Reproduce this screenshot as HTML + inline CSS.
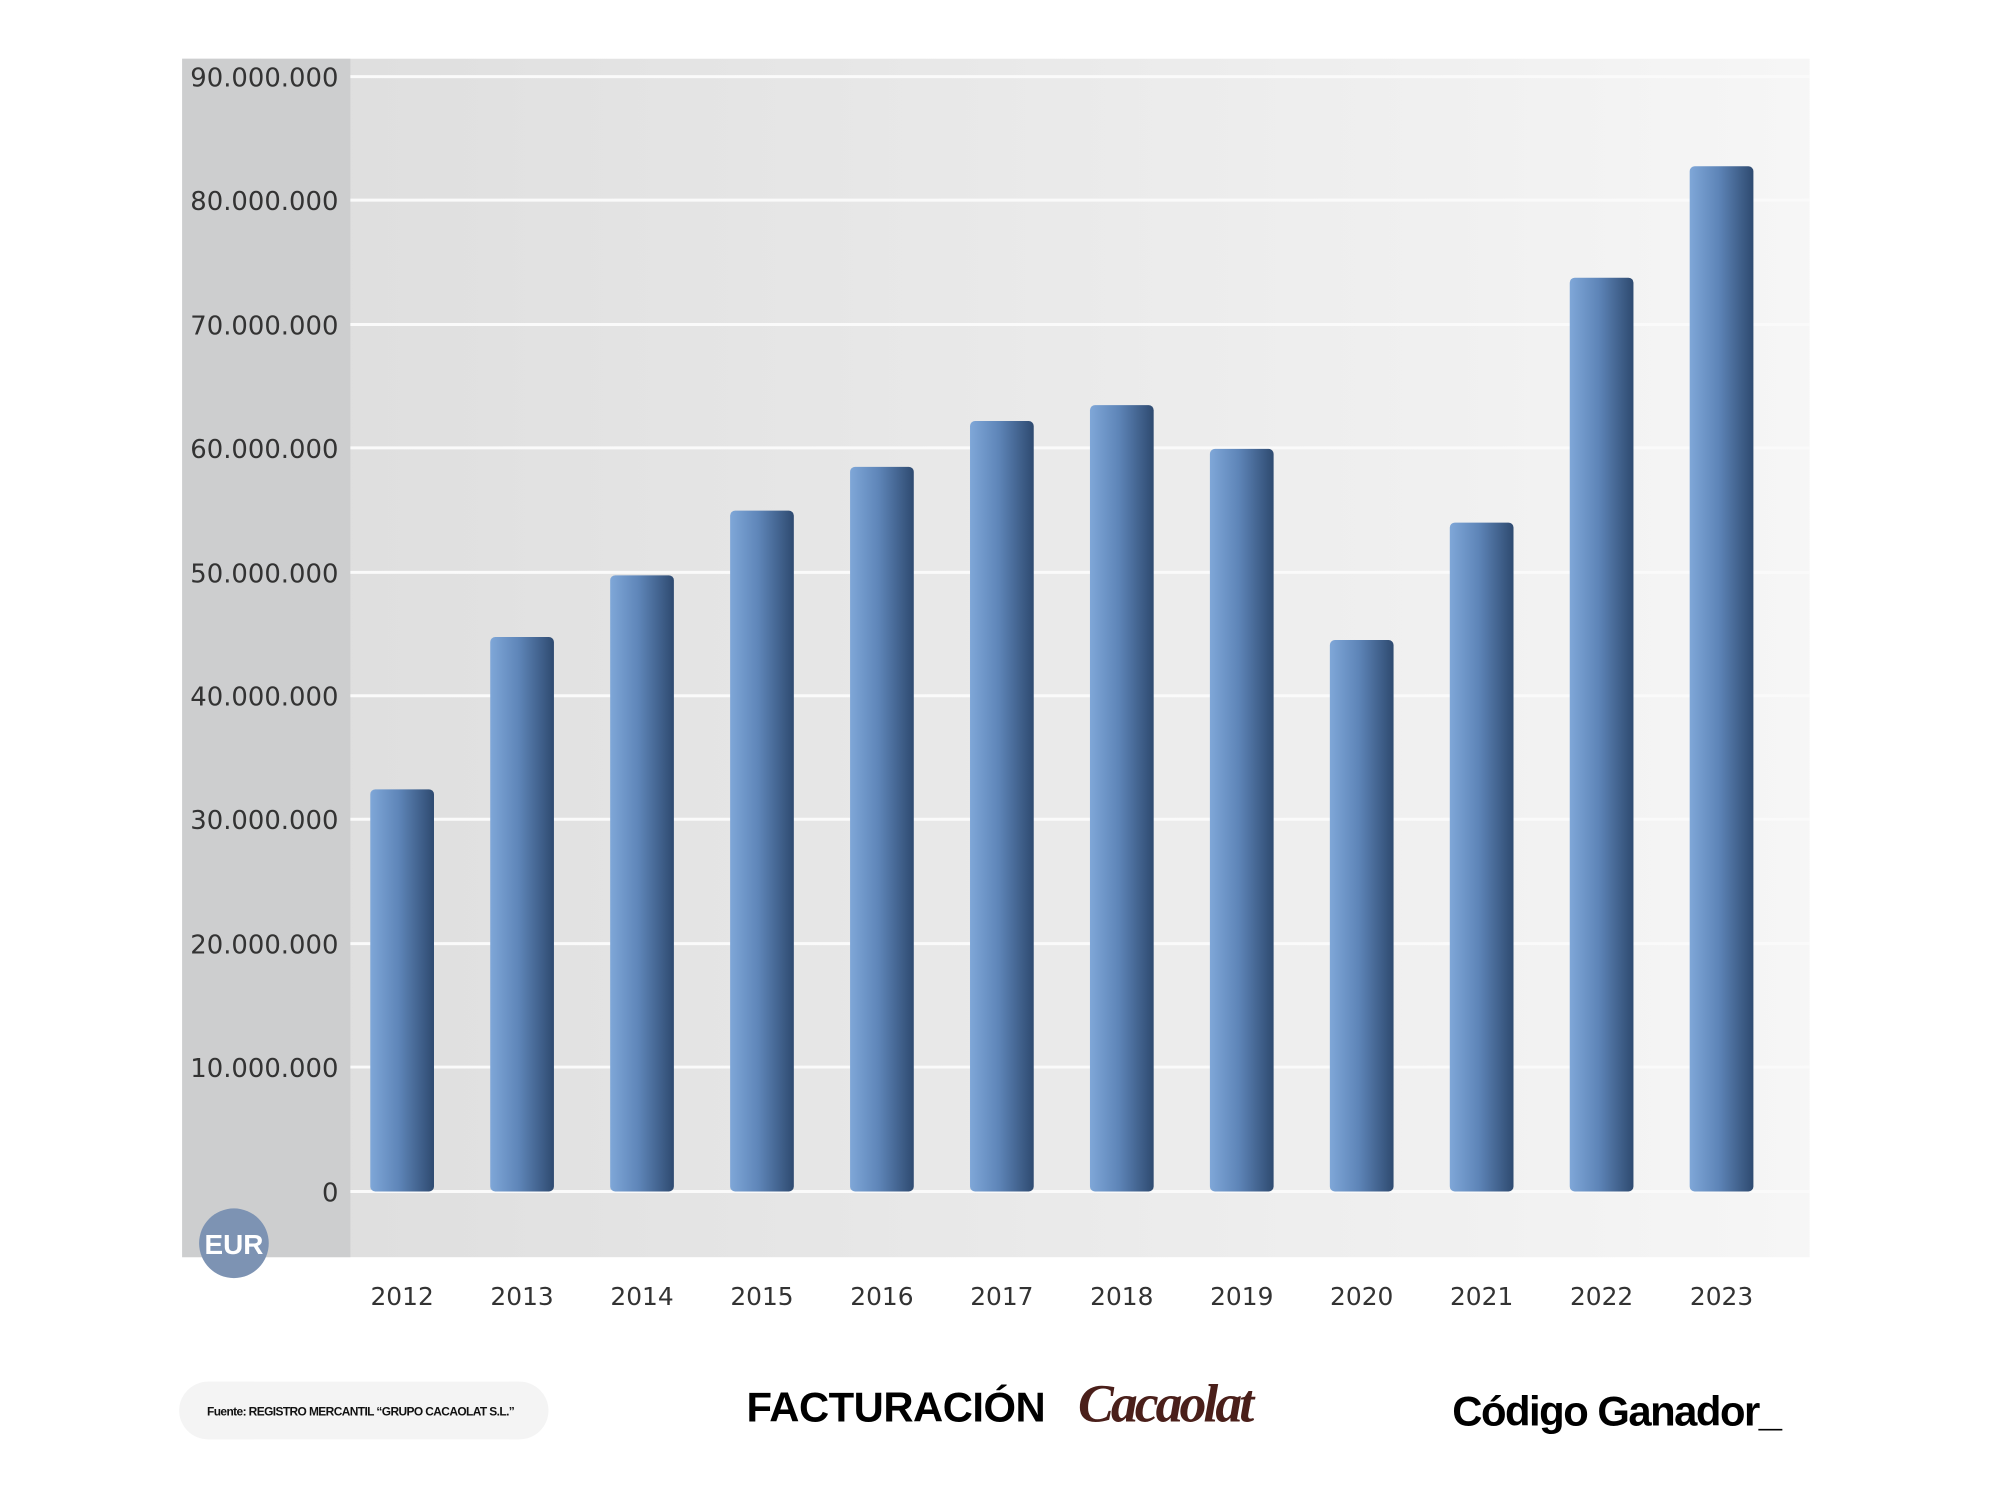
<!DOCTYPE html>
<html><head><meta charset="utf-8"><style>
html,body{margin:0;padding:0;background:#fff;width:2000px;height:1500px;overflow:hidden}
</style></head><body>
<svg width="2000" height="1500" xmlns="http://www.w3.org/2000/svg" font-family="'DejaVu Sans', 'Liberation Sans', sans-serif">
<defs>
<linearGradient id="bg" x1="0" x2="1" y1="0" y2="0"><stop offset="0" stop-color="#dcdcdc"/><stop offset="1" stop-color="#f6f6f6"/></linearGradient>
<linearGradient id="bar" x1="0" x2="1" y1="0" y2="0"><stop offset="0" stop-color="#7fa7d8"/><stop offset="0.45" stop-color="#5e85b8"/><stop offset="1" stop-color="#2e4a70"/></linearGradient>
</defs>
<g transform="scale(0.9954)">
<rect x="183" y="59" width="1635" height="1204" fill="url(#bg)"/>
<rect x="183" y="59" width="169" height="1204" fill="#cdcecf"/>
<g stroke="#fafafa" stroke-width="3">
<line x1="352" x2="1818" y1="77" y2="77"/><line x1="352" x2="1818" y1="201" y2="201"/><line x1="352" x2="1818" y1="326" y2="326"/><line x1="352" x2="1818" y1="450" y2="450"/><line x1="352" x2="1818" y1="575" y2="575"/><line x1="352" x2="1818" y1="699" y2="699"/><line x1="352" x2="1818" y1="823" y2="823"/><line x1="352" x2="1818" y1="948" y2="948"/><line x1="352" x2="1818" y1="1072" y2="1072"/><line x1="352" x2="1818" y1="1197" y2="1197"/>
</g>
<g font-size="26" fill="#333" text-anchor="end">
<text x="340" y="87">90.000.000</text><text x="340" y="211">80.000.000</text><text x="340" y="336">70.000.000</text><text x="340" y="460">60.000.000</text><text x="340" y="585">50.000.000</text><text x="340" y="709">40.000.000</text><text x="340" y="833">30.000.000</text><text x="340" y="958">20.000.000</text><text x="340" y="1082">10.000.000</text><text x="340" y="1207">0</text>
</g>
<g fill="url(#bar)">
<rect x="372" y="793" width="64" height="404" rx="5"/>
<rect x="492.5" y="640" width="64" height="557" rx="5"/>
<rect x="613" y="578" width="64" height="619" rx="5"/>
<rect x="733.5" y="513" width="64" height="684" rx="5"/>
<rect x="854" y="469" width="64" height="728" rx="5"/>
<rect x="974.5" y="423" width="64" height="774" rx="5"/>
<rect x="1095" y="407" width="64" height="790" rx="5"/>
<rect x="1215.5" y="451" width="64" height="746" rx="5"/>
<rect x="1336" y="643" width="64" height="554" rx="5"/>
<rect x="1456.5" y="525" width="64" height="672" rx="5"/>
<rect x="1577" y="279" width="64" height="918" rx="5"/>
<rect x="1697.5" y="167" width="64" height="1030" rx="5"/>
</g>
<circle cx="235" cy="1249" r="35" fill="#7d93b3"/>
<text x="235" y="1260" font-size="28" font-weight="bold" fill="#fff" text-anchor="middle" font-family="'Liberation Sans',sans-serif">EUR</text>
<g font-size="25" fill="#333" text-anchor="middle">
<text x="404" y="1311">2012</text><text x="524.5" y="1311">2013</text><text x="645" y="1311">2014</text><text x="765.5" y="1311">2015</text><text x="886" y="1311">2016</text><text x="1006.5" y="1311">2017</text><text x="1127" y="1311">2018</text><text x="1247.5" y="1311">2019</text><text x="1368" y="1311">2020</text><text x="1488.5" y="1311">2021</text><text x="1609" y="1311">2022</text><text x="1729.5" y="1311">2023</text>
</g>
<rect x="180" y="1388" width="371" height="58" rx="29" fill="#f4f4f4"/>
<text x="208" y="1422" font-size="12" font-weight="bold" fill="#111" font-family="'Liberation Sans',sans-serif" letter-spacing="-0.6">Fuente: REGISTRO MERCANTIL “GRUPO CACAOLAT S.L.”</text>
<text x="750" y="1428" font-size="42" font-weight="bold" fill="#000" font-family="'Liberation Sans',sans-serif" letter-spacing="-0.5">FACTURACIÓN</text>
<text x="1083" y="1428" font-size="54" font-style="italic" font-weight="bold" fill="#4a1f1a" font-family="'Liberation Serif',serif" letter-spacing="-3">Cacaolat</text>
<text x="1459" y="1432" font-size="42" font-weight="bold" fill="#000" font-family="'Liberation Sans',sans-serif" letter-spacing="-1.5">Código Ganador_</text>
</g>
</svg>
</body></html>
